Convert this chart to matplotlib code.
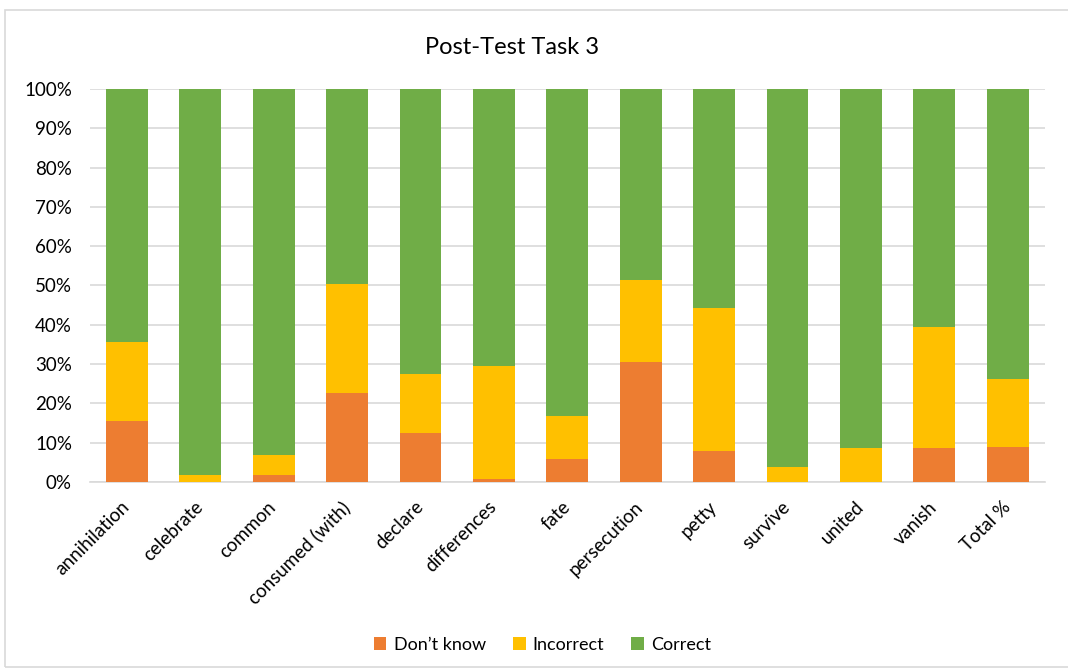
import numpy as np
import matplotlib
matplotlib.use('Agg')
import matplotlib.pyplot as plt
from matplotlib.patches import Rectangle

plt.rcParams['font.family'] = ['Lato', 'DejaVu Sans']

words = ['annihilation', 'celebrate', 'common', 'consumed (with)', 'declare',
         'differences', 'fate', 'persecution', 'petty', 'survive', 'united',
         'vanish', 'Total %']
dont_know = [15.6, 0.0, 1.8, 22.6, 12.6, 0.8, 5.8, 30.5, 7.8, 0.0, 0.0, 8.6, 8.8]
incorrect = [19.9, 1.9, 5.0, 27.7, 14.9, 28.7, 10.9, 20.9, 36.6, 3.7, 8.6, 30.8, 17.5]
correct = [100 - a - b for a, b in zip(dont_know, incorrect)]

fig = plt.figure(figsize=(10.68, 6.72), dpi=100)
ax = fig.add_axes([0.0843, 0.2827, 0.8937, 0.5849])

# light frame around the whole chart
fig.patches.append(Rectangle((0.005, 0.007), 1.2, 0.978, transform=fig.transFigure,
                             fill=False, edgecolor='#d9d9d9', linewidth=1.2))

x = np.arange(len(words))
w = 0.57
bottom2 = np.array(dont_know) + np.array(incorrect)
ax.bar(x, dont_know, w, color='#ED7D31', label='Don’t know', zorder=3)
ax.bar(x, incorrect, w, bottom=dont_know, color='#FFC000', label='Incorrect', zorder=3)
ax.bar(x, correct, w, bottom=bottom2, color='#70AD47', label='Correct', zorder=3)

ax.set_xlim(-0.5, len(words) - 0.5)
ax.set_ylim(0, 100)
ax.set_yticks(range(0, 101, 10))
ax.set_yticklabels([f'{v}%' for v in range(0, 101, 10)], fontsize=13.5)
ax.set_xticks(x)
ax.set_xticklabels(words, rotation=45, ha='right', va='center',
                   rotation_mode='anchor', fontsize=13.5)
ax.tick_params(length=0)
ax.tick_params(axis='y', pad=13)
ax.tick_params(axis='x', pad=16)

ax.grid(axis='y', color='#d9d9d9', linewidth=1.2, zorder=0)
for s in ['top', 'right', 'left']:
    ax.spines[s].set_visible(False)
ax.spines['bottom'].set_color('#d9d9d9')
ax.spines['bottom'].set_linewidth(1.2)

fig.text(0.479, 0.93, 'Post-Test Task 3', ha='center', va='center', fontsize=17)

fig.legend(loc='center', bbox_to_anchor=(0.508, 0.04), ncol=3, frameon=False,
           fontsize=13, handlelength=0.7, handleheight=0.7, handletextpad=0.4,
           columnspacing=1.5)

fig.savefig('out.png', dpi=100)
